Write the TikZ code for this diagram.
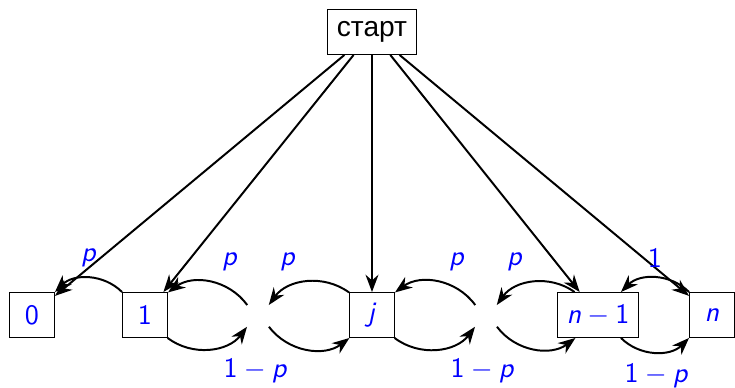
\documentclass[tikz,border=0pt]{standalone}
\usepackage{fontspec}
\newfontfamily\cyrfont{Liberation Sans}
\usetikzlibrary{arrows.meta}
\newcommand{\sv}[1]{\textsf{\itshape #1}}

\begin{document}
\begin{tikzpicture}[x=0.0125cm, y=-0.0125cm, >={Stealth},
    state/.style={draw, rectangle, minimum width=0.56cm, minimum height=0.56cm, text=blue, font=\sffamily, line width=0.4pt},
    gap/.style={minimum size=0.26cm, inner sep=0pt},
    prob/.style={text=blue, font=\sffamily},
    jump/.style={->, line width=0.7pt, bend right=45}]
    \useasboundingbox (0,0) rectangle (735,388);

    % States
    \node[state, text=black] (start) at (372,32) {\cyrfont старт};
    \node[state] (s0) at (32,315) {0};
    \node[state] (s1) at (145,315) {1};
    \node[gap] (d1) at (258,316) {};
    \node[state] (sj) at (372,315) {\sv{j}};
    \node[gap] (d2) at (486,316) {};
    \node[state] (sm) at (598,315) {$\sv{n}-\textsf{1}$};
    \node[state] (sn) at (712,315) {\sv{n}};

    % Initial jumps
    \foreach \t in {s0, s1, sj, sm, sn} {
        \draw[->, line width=0.7pt] (start) -- (\t);
    }

    % Transitions
    \draw[jump] (s1) to (s0);
    \draw[jump] (s1) to (d1);
    \draw[jump] (d1) to (s1);
    \draw[jump] (sj) to (d1);
    \draw[jump] (d1) to (sj);
    \draw[jump] (sj) to (d2);
    \draw[jump] (d2) to (sj);
    \draw[jump] (sm) to (d2);
    \draw[jump] (d2) to (sm);
    \draw[jump] (sm) to (sn);
    \draw[jump] (sn) to (sm);

    % Probabilities
    \node[prob] (p0) at (89,258) {\sv{p}};
    \node[prob] (p1) at (230,262) {\sv{p}};
    \node[prob] (p2) at (288,262) {\sv{p}};
    \node[prob] (q1) at (255,371) {$\textsf{1}-\sv{p}$};
    \node[prob] (p3) at (457,262) {\sv{p}};
    \node[prob] (p4) at (515,262) {\sv{p}};
    \node[prob] (q2) at (482,371) {$\textsf{1}-\sv{p}$};
    \node[prob] (r1) at (655,258) {\textsf{1}};
    \node[prob] (q3) at (656,376) {$\textsf{1}-\sv{p}$};
\end{tikzpicture}
\end{document}
